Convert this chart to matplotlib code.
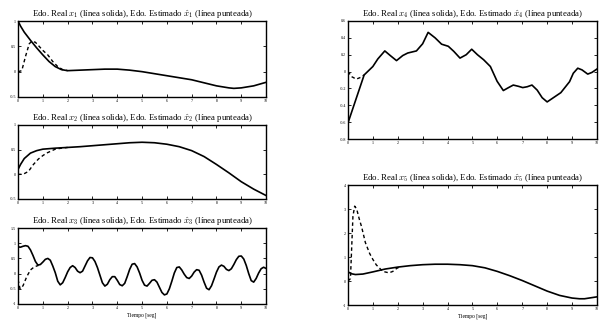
import numpy as np
import matplotlib
matplotlib.use("Agg")
import matplotlib.pyplot as plt
from matplotlib.ticker import FormatStrFormatter

plt.rcParams['font.family'] = ['Liberation Serif', 'DejaVu Serif']
plt.rcParams['mathtext.fontset'] = 'cm'
plt.rcParams['axes.unicode_minus'] = False

# x1
t1 = [0, 0.1, 0.25, 0.5, 0.75, 1, 1.25, 1.5, 1.75, 2, 2.5, 3, 3.5, 4, 4.5, 5,
      5.5, 6, 6.5, 7, 7.5, 8, 8.5, 8.7, 9, 9.5, 10]
x1 = [1.0, 0.9, 0.78, 0.62, 0.47, 0.33, 0.2, 0.1, 0.04, 0.02, 0.03, 0.04, 0.05,
      0.05, 0.03, 0.0, -0.04, -0.08, -0.12, -0.16, -0.22, -0.28, -0.32, -0.33,
      -0.32, -0.28, -0.21]
t1e = [0, 0.15, 0.3, 0.45, 0.55, 0.7, 0.85, 1.0, 1.2, 1.4, 1.6, 1.8, 2.0]
x1e = [0.0, 0.02, 0.3, 0.55, 0.6, 0.58, 0.5, 0.42, 0.33, 0.2, 0.1, 0.04, 0.02]

# x2
t2 = [0, 0.1, 0.25, 0.5, 0.75, 1, 1.5, 2, 2.5, 3, 3.5, 4, 4.5, 5, 5.5, 6, 6.5,
      7, 7.5, 8, 8.5, 9, 9.5, 10]
x2 = [0.1, 0.2, 0.32, 0.43, 0.48, 0.51, 0.53, 0.545, 0.56, 0.58, 0.6, 0.62,
      0.64, 0.65, 0.64, 0.61, 0.56, 0.48, 0.36, 0.2, 0.03, -0.15, -0.3, -0.43]
t2e = [0, 0.2, 0.42, 0.62, 0.82, 1.0, 1.15, 1.5, 1.75, 2.0]
x2e = [0.0, 0.0, 0.06, 0.2, 0.31, 0.38, 0.43, 0.51, 0.53, 0.545]

# x3 (sampled every 0.1 s)
t3 = np.round(np.arange(0, 10.05, 0.1), 1)
x3 = [0.88, 0.87, 0.90, 0.92, 0.90, 0.78, 0.60, 0.40, 0.28, 0.30,
      0.38, 0.47, 0.50, 0.44, 0.25, 0.03, -0.25, -0.37, -0.30, -0.13,
      0.06, 0.20, 0.26, 0.20, 0.08, 0.03, 0.08, 0.25, 0.42, 0.53,
      0.52, 0.40, 0.20, -0.05, -0.30, -0.41, -0.35, -0.20, -0.10, -0.10,
      -0.22, -0.36, -0.40, -0.32, -0.10, 0.14, 0.31, 0.33, 0.22, 0.02,
      -0.22, -0.38, -0.41, -0.32, -0.22, -0.20, -0.28, -0.45, -0.62, -0.70,
      -0.67, -0.50, -0.25, 0.02, 0.20, 0.22, 0.12, -0.02, -0.13, -0.16,
      -0.08, 0.05, 0.13, 0.11, -0.05, -0.28, -0.48, -0.53, -0.40, -0.18,
      0.05, 0.22, 0.28, 0.24, 0.14, 0.10, 0.16, 0.30, 0.46, 0.57,
      0.58, 0.48, 0.27, 0.00, -0.23, -0.28, -0.16, 0.02, 0.16, 0.21,
      0.17]
t3e = [0, 0.08, 0.2, 0.35, 0.5, 0.65, 0.82]
x3e = [-0.2, -0.5, -0.4, -0.1, 0.12, 0.22, 0.27]

# x4
t4 = [0, 0.65, 1.0, 1.2, 1.48, 1.7, 1.95, 2.2, 2.4, 2.75, 3.0, 3.22, 3.5, 3.76,
      4.03, 4.25, 4.5, 4.75, 4.97, 5.2, 5.45, 5.72, 5.99, 6.24, 6.45, 6.64,
      6.85, 7.02, 7.2, 7.39, 7.6, 7.8, 8.0, 8.2, 8.55, 8.9, 9.05, 9.23, 9.4,
      9.63, 9.8, 10.0]
x4 = [-0.61, -0.04, 0.06, 0.15, 0.245, 0.19, 0.13, 0.19, 0.22, 0.245, 0.33,
      0.465, 0.40, 0.325, 0.30, 0.24, 0.16, 0.20, 0.265, 0.20, 0.14, 0.06,
      -0.115, -0.225, -0.19, -0.16, -0.175, -0.19, -0.18, -0.16, -0.22, -0.31,
      -0.36, -0.32, -0.25, -0.12, -0.02, 0.04, 0.02, -0.03, -0.01, 0.03]
t4e = [0, 0.15, 0.33, 0.5, 0.65]
x4e = [0.0, -0.06, -0.09, -0.07, -0.04]

# x5
t5 = [0, 0.15, 0.3, 0.6, 1, 1.5, 2, 2.5, 3, 3.5, 4, 4.5, 5, 5.5, 6, 6.5, 7,
      7.5, 8, 8.5, 9, 9.3, 9.5, 10]
x5 = [0.38, 0.3, 0.27, 0.29, 0.38, 0.5, 0.58, 0.64, 0.68, 0.7, 0.7, 0.68, 0.64,
      0.55, 0.4, 0.22, 0.02, -0.2, -0.42, -0.6, -0.71, -0.74, -0.74, -0.66]
t5e = [0, 0.1, 0.15, 0.2, 0.27, 0.35, 0.45, 0.55, 0.7, 0.87, 1.0, 1.14, 1.4,
       1.65, 1.8, 1.95, 2.1]
x5e = [0.0, 0.1, 1.4, 2.7, 3.12, 3.0, 2.6, 2.25, 1.6, 1.15, 0.9, 0.67, 0.4,
       0.34, 0.4, 0.52, 0.6]

fig = plt.figure(figsize=(6.02, 3.26), dpi=100)

panels = [
    ([0.030, 0.7025, 0.412, 0.233], 1, t1, x1, t1e, x1e, (-0.5, 1), [-0.5, 0, 0.5, 1], False),
    ([0.030, 0.3896, 0.412, 0.227], 2, t2, x2, t2e, x2e, (-0.5, 1), [-0.5, 0, 0.5, 1], False),
    ([0.030, 0.0675, 0.412, 0.233], 3, t3, x3, t3e, x3e, (-1, 1.5), [-1, -0.5, 0, 0.5, 1, 1.5], True),
    ([0.578, 0.5736, 0.4136, 0.362], 4, t4, x4, t4e, x4e, (-0.8, 0.6),
     [-0.8, -0.6, -0.4, -0.2, 0, 0.2, 0.4, 0.6], False),
    ([0.578, 0.0644, 0.4136, 0.368], 5, t5, x5, t5e, x5e, (-1, 4), [-1, 0, 1, 2, 3, 4], True),
]

for rect, k, t, x, te, xe, ylim, yt, xlab in panels:
    ax = fig.add_axes(rect)
    ax.plot(t, x, color='black', lw=1.2)
    ax.plot(te, xe, color='black', lw=1.0, ls=(0, (2.5, 2)))
    ax.set_xlim(0, 10)
    ax.set_ylim(*ylim)
    ax.set_xticks(range(11))
    ax.set_yticks(yt)
    ax.yaxis.set_major_formatter(FormatStrFormatter('%g'))
    ax.tick_params(direction='in', length=2.5, width=0.6, labelsize=3,
                   top=True, right=True, pad=1.5)
    for s in ax.spines.values():
        s.set_linewidth(1.0)
    ax.set_title(r'Edo. Real $x_%d$ (línea solida), Edo. Estimado $\hat{x}_%d$ (línea punteada)' % (k, k),
                 fontsize=6.3, pad=3)
    if xlab:
        ax.set_xlabel('Tiempo [seg]', fontsize=4, labelpad=2)

fig.savefig('out.png', dpi=100)
